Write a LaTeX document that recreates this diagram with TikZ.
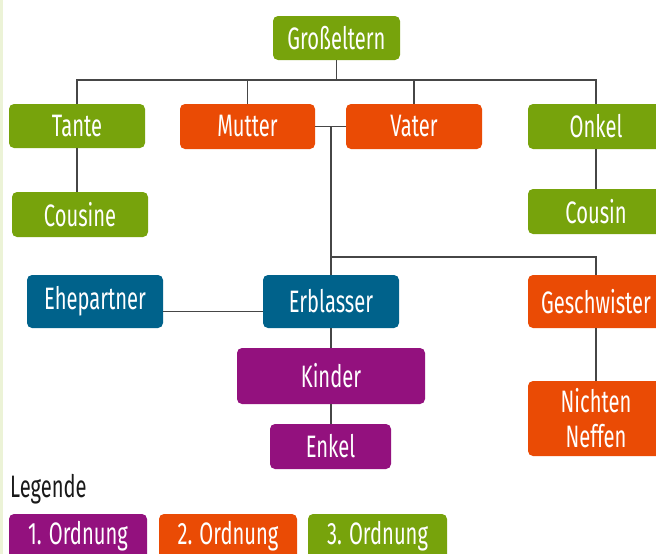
\documentclass[tikz,border=0pt]{standalone}
\usepackage{fontspec}
\setmainfont{Fira Sans}[FakeStretch=0.65]
\usepackage{tikz}
\usetikzlibrary{positioning}
\definecolor{mgreen}{RGB}{119,163,12}
\definecolor{morange}{RGB}{234,75,5}
\definecolor{mblue}{RGB}{0,98,139}
\definecolor{mpurple}{RGB}{147,17,126}
\definecolor{mline}{RGB}{70,70,70}
\definecolor{mstrip}{RGB}{236,243,215}
\tikzset{box/.style = {rounded corners=5pt, text=white, inner sep=0pt, align=center,
                       minimum width=136pt, minimum height=45pt,
                       font=\fontsize{31}{31}\selectfont},
         link/.style = {mline, line width=1.5pt}}

\begin{document}
\begin{tikzpicture}[x=1pt, y=-1pt]
    \useasboundingbox (0, 0) rectangle (656, 554);
    \clip (0, 0) rectangle (656, 554);
    \fill [mstrip] (0, 0) rectangle (2.5, 554);
    % nodes
    \node [box, fill=mgreen, minimum width=127pt, minimum height=44pt] (grosseltern) at (336.5, 38) {Großeltern};
    \node [box, fill=mgreen, minimum height=44pt] (tante) at (77, 126) {Tante};
    \node [box, fill=morange, minimum width=135pt] (mutter) at (247.5, 126.5) {Mutter};
    \node [box, fill=morange] (vater) at (414, 126.5) {Vater};
    \node [box, fill=mgreen] (onkel) at (596, 126.5) {Onkel};
    \node [box, fill=mgreen] (cousine) at (80, 214.5) {Cousine};
    \node [box, fill=mgreen] (cousin) at (596, 211.5) {Cousin};
    \node [box, fill=mblue, minimum height=53pt] (ehepartner) at (95, 301.5) {Ehepartner};
    \node [box, fill=mblue, minimum height=53pt] (erblasser) at (331, 301.5) {Erblasser};
    \node [box, fill=morange, minimum height=53pt] (geschwister) at (596, 301.5) {Geschwister};
    \node [box, fill=mpurple, minimum width=188pt, minimum height=56pt] (kinder) at (331, 376) {Kinder};
    \node [box, fill=mpurple, minimum width=121pt] (enkel) at (330.5, 446.5) {Enkel};
    \node [box, fill=morange, minimum height=75pt, font=\fontsize{31}{35}\selectfont] (nichten) at (596, 418.5) {Nichten\\Neffen};
    % connectors
    \coordinate (bar) at (336.5, 80);
    \coordinate (mid) at (331, 126.5);
    \coordinate (split) at (331, 257);
    \draw [link] (grosseltern.south) -- (bar);
    \draw [link] (tante.north) |- (bar) -| (onkel.north);
    \draw [link] (mutter.north) -- (mutter.north |- bar);
    \draw [link] (vater.north) -- (vater.north |- bar);
    \draw [link] (mutter.east) -- (vater.west);
    \draw [link] (mid) -- (erblasser.north);
    \draw [link] (split) -| (geschwister.north);
    \draw [link] (tante.south) -- (tante.south |- cousine.north);
    \draw [link] (onkel.south) -- (cousin.north);
    \draw [link] ([yshift=-10pt]ehepartner.east) -- ([yshift=-10pt]erblasser.west);
    \draw [link] (erblasser.south) -- (kinder.north);
    \draw [link] (kinder.south) -- (enkel.north -| kinder.south);
    \draw [link] (geschwister.south) -- (nichten.north);
    % legend
    \node [anchor=base west, inner sep=0pt, text={black!90}, font=\fontsize{31}{31}\selectfont] (legende) at (10, 497) {Legende};
    \node [box, fill=mpurple, minimum width=138pt] (ordnung1) at (78, 536.5) {1. Ordnung};
    \node [box, fill=morange, minimum width=138pt] (ordnung2) at (228, 536.5) {2. Ordnung};
    \node [box, fill=mgreen, minimum width=139pt] (ordnung3) at (377.5, 536.5) {3. Ordnung};
\end{tikzpicture}
\end{document}
